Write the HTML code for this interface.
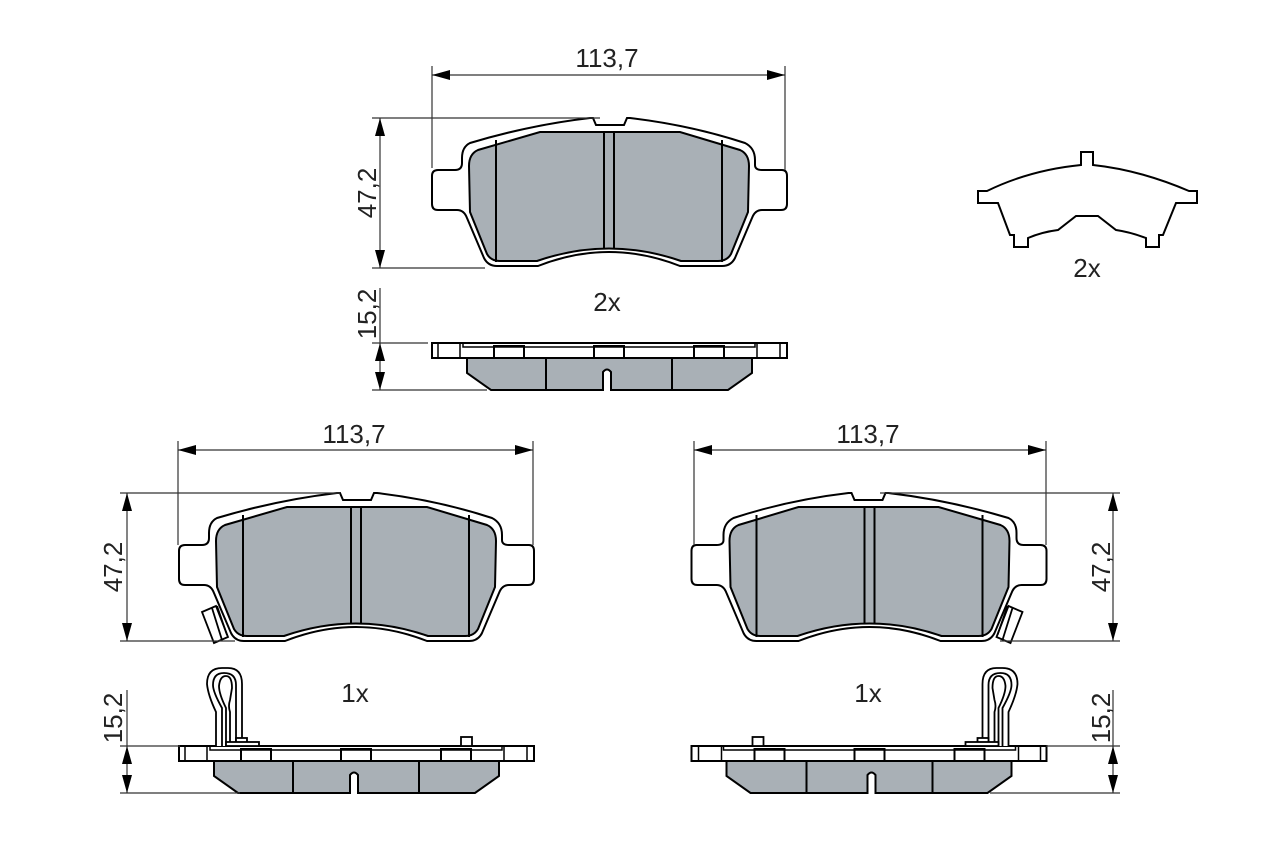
<!DOCTYPE html>
<html><head><meta charset="utf-8"><style>
html,body{margin:0;padding:0;background:#fff;}
svg{display:block;}
text{font-family:"Liberation Sans",sans-serif;font-size:26px;fill:#222;}
</style></head><body>
<svg width="1280" height="853" viewBox="0 0 1280 853" xmlns="http://www.w3.org/2000/svg">
<defs>
<g id="pad">
<path d="M470,143 Q530,125 590,118 L593,118 L596,125 L624,125 L627,118 L630,118 Q690,125 745,143 Q755,148 755,160 L755,165 Q755,170 762,170 L782,170 Q787,170 787,176 L787,204 Q787,210 781,210 L762,210 Q755,210 752,218 L735,258 Q731,266 722,266 L680,266 Q609,238 538,266 L497,266 Q488,266 484,258 L467,218 Q464,210 457,210 L438,210 Q432,210 432,204 L432,176 Q432,170 438,170 L455,170 Q462,170 462,163 L462,158 Q462,147 470,143 Z" fill="#fff" stroke="#000" stroke-width="2"/>
<path d="M478,150 Q469,154 469,166 L470,212 L487,254 Q491,261 500,261 L537,261 Q609,236 681,261 L718,261 Q727,261 731,254 L748,212 L749,166 Q749,154 740,150 L680,132 L540,132 Z" fill="#a9b0b6" stroke="#000" stroke-width="2"/>
<path d="M496,140 V262 M604,132 V248 M614,132 V248 M722,140 V262" stroke="#000" stroke-width="2" fill="none"/>
</g>
<g id="side">
<rect x="432" y="343" width="355" height="15" fill="#fff" stroke="#000" stroke-width="2"/>
<path d="M438,343 V358 M460,343 V358 M757,343 V358 M780,343 V358 M463,343 V347 H755 V343" stroke="#000" stroke-width="1.5" fill="none"/>
<path d="M494,358 V346 H524 V358 M594,358 V346 H624 V358 M694,358 V346 H724 V358" stroke="#000" stroke-width="2" fill="none"/>
<path d="M467,358 L467,373 L491,390 L603,390 L603,372 Q607,367 611,372 L611,390 L728,390 L752,373 L752,358 Z" fill="#a9b0b6" stroke="#000" stroke-width="2"/>
<path d="M546,358 V390 M672,358 V390" stroke="#000" stroke-width="2"/>
</g>
<g id="sensor" stroke="#000" stroke-width="1.8" fill="#fff">
<path d="M202,612 L216,606 L228,637 L214,643 Z"/>
<path d="M212,608 L222,640 M217,606 L227,635"/>
</g>
<g id="clip" stroke="#000" stroke-width="1.8" fill="none">
<path d="M216,746 L216,712 Q208,695 207,684 Q207,668 222,668 L228,668 Q242,668 242,684 L242,746" fill="#fff"/>
<path d="M222,746 L222,708 Q213,692 213,685 Q213,673 224,673 Q236,673 236,685 L236,746"/>
<path d="M226,746 L226,708 Q219,694 219,686 Q220,676 226,676 Q232,676 232,688 L230,700 Q228,706 230,712 L230,746"/>
<rect x="236" y="738" width="11" height="8" fill="#fff"/>
<rect x="226" y="742" width="33" height="4" fill="#fff"/>
<rect x="461" y="737" width="11" height="9" fill="#fff"/>
</g>
</defs>

<use href="#pad"/>
<use href="#side"/>
<use href="#pad" transform="translate(-253,375)"/>
<use href="#side" transform="translate(-253,403)"/>
<use href="#sensor"/>
<use href="#clip"/>
<use href="#pad" transform="matrix(-1 0 0 1 1478.5 375)"/>
<use href="#side" transform="matrix(-1 0 0 1 1478.5 403)"/>
<use href="#sensor" transform="matrix(-1 0 0 1 1224.5 0)"/>
<use href="#clip" transform="matrix(-1 0 0 1 1224.5 0)"/>

<g stroke="#333" stroke-width="1.2" fill="none">
<path d="M432,66 V168 M785,66 V170 M432,75 H785"/>
<path d="M372,118 H600 M372,268 H485 M380,118 V268"/>
<path d="M380,288 V390 M372,343 H428 M372,390 H487"/>
<path d="M178,441 V545 M533,441 V545 M178,450 H533"/>
<path d="M120,493 H340 M120,641 H235 M127,493 V641"/>
<path d="M127,690 V793 M120,746 H180 M120,793 H240"/>
<path d="M694,441 V545 M1046,441 V545 M694,450 H1046"/>
<path d="M880,493 H1120 M1000,641 H1120 M1113,493 V641"/>
<path d="M1113,690 V793 M1046,746 H1120 M990,793 H1120"/>
</g>
<g fill="#000">
<path d="M432,75 l18,-5 v10 Z M785,75 l-18,-5 v10 Z"/>
<path d="M380,118 l-5,18 h10 Z M380,268 l-5,-18 h10 Z"/>
<path d="M380,343 l-5,18 h10 Z M380,390 l-5,-18 h10 Z"/>
<path d="M178,450 l18,-5 v10 Z M533,450 l-18,-5 v10 Z"/>
<path d="M127,493 l-5,18 h10 Z M127,641 l-5,-18 h10 Z"/>
<path d="M127,746 l-5,18 h10 Z M127,793 l-5,-18 h10 Z"/>
<path d="M694,450 l18,-5 v10 Z M1046,450 l-18,-5 v10 Z"/>
<path d="M1113,493 l-5,18 h10 Z M1113,641 l-5,-18 h10 Z"/>
<path d="M1113,746 l-5,18 h10 Z M1113,793 l-5,-18 h10 Z"/>
</g>

<path d="M978,191 L987,191 Q1030,170 1081,165 L1081,152 L1093,152 L1093,165 Q1140,170 1189,191 L1197,191 L1197,203 L1176,203 L1163,235 L1159,235 L1159,247 L1146,247 L1146,238 Q1130,232 1116,230 L1098,216 L1076,216 L1058,230 Q1042,232 1028,238 L1028,247 L1014,247 L1014,235 L1010,235 L998,203 L978,203 Z" fill="#fff" stroke="#000" stroke-width="2"/>

<text x="607" y="67" text-anchor="middle">113,7</text>
<text x="354" y="443" text-anchor="middle">113,7</text>
<text x="868" y="443" text-anchor="middle">113,7</text>
<text transform="translate(376,193) rotate(-90)" text-anchor="middle">47,2</text>
<text transform="translate(376,314) rotate(-90)" text-anchor="middle">15,2</text>
<text transform="translate(122,567) rotate(-90)" text-anchor="middle">47,2</text>
<text transform="translate(122,718) rotate(-90)" text-anchor="middle">15,2</text>
<text transform="translate(1110,567) rotate(-90)" text-anchor="middle">47,2</text>
<text transform="translate(1110,718) rotate(-90)" text-anchor="middle">15,2</text>
<text x="607" y="311" text-anchor="middle">2x</text>
<text x="1087" y="277" text-anchor="middle">2x</text>
<text x="355" y="702" text-anchor="middle">1x</text>
<text x="868" y="702" text-anchor="middle">1x</text>
</svg>
</body></html>
